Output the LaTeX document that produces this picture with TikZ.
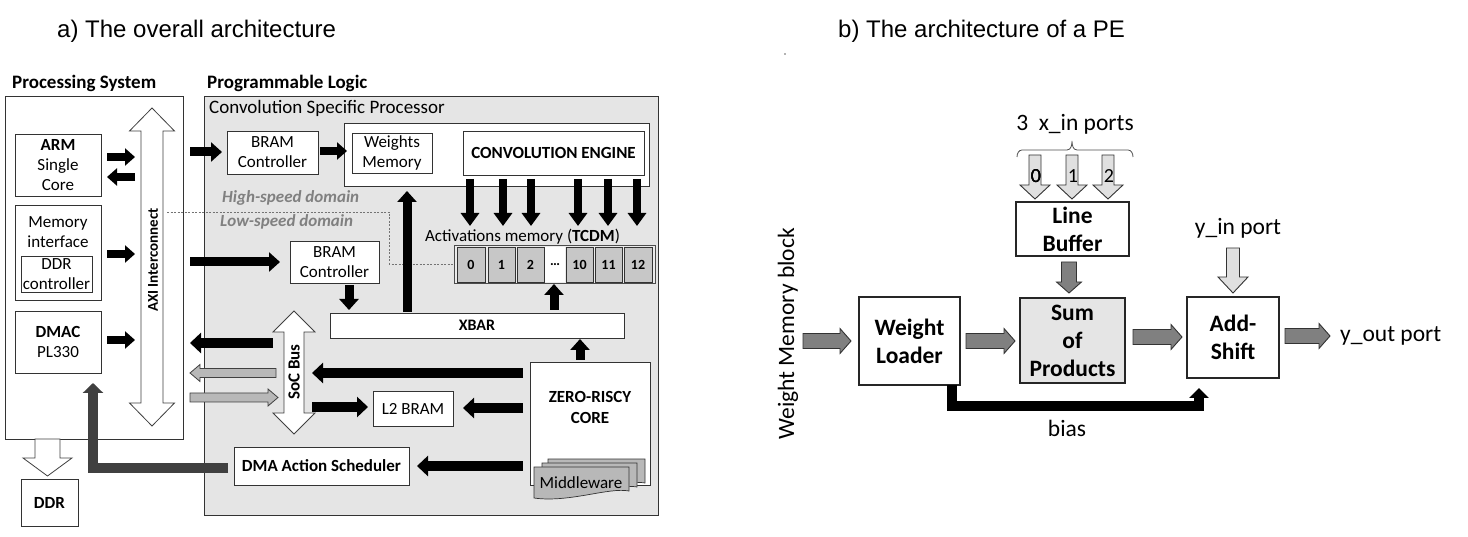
\documentclass[tikz,border=0pt]{standalone}
\usepackage{fontspec}
\setmainfont{Carlito}
\newfontfamily\arialf{Liberation Sans}
\usetikzlibrary{arrows.meta}
\newcommand\myfs[2]{\fontsize{#1pt}{#2pt}\selectfont}
% single block arrow: style, start, angle, length, shaft half, head half, head length
\newcommand\blockarrow[7]{\draw[#1,shift={(#2)},rotate=#3] (0,-#5) -- ({#4-#7},-#5) -- ({#4-#7},-#6) -- (#4,0) -- ({#4-#7},#6) -- ({#4-#7},#5) -- (0,#5) -- cycle;}
% double block arrow
\newcommand\dblarrow[7]{\draw[#1,shift={(#2)},rotate=#3] (0,0) -- (#7,-#6) -- (#7,-#5) -- ({#4-#7},-#5) -- ({#4-#7},-#6) -- (#4,0) -- ({#4-#7},#6) -- ({#4-#7},#5) -- (#7,#5) -- (#7,#6) -- cycle;}
\newcommand\docsh[4]{\draw[fill=black!28, draw=black!80, line width=0.7pt] (#1,#2) -- (#3,#2) -- (#3,{#4-7}) .. controls ({#3-20},{#4-11}) and ({#1+35},{#4+5}) .. (#1,#4) -- cycle;}
\tikzset{
 box/.style={draw=black!80, line width=0.8pt, fill=white, inner sep=0pt, align=center, font=\myfs{17}{20}},
 pebox/.style={draw=black!85, line width=1.1pt, fill=white, inner sep=0pt, align=center, font=\myfs{23.5}{28}\bfseries},
 lbl/.style={inner sep=0pt, align=center, font=\myfs{17}{20}},
 pelbl/.style={inner sep=0pt, align=center, font=\myfs{23.5}{28}},
 blk/.style={line width=9pt, -{Triangle[width=19pt,length=11pt]}},
 outl/.style={draw=black!75, line width=0.8pt},
 pearr/.style={draw=black!80, line width=0.9pt, fill=black!50},
 lightarr/.style={draw=black!80, line width=0.9pt, fill=black!12},
}
\begin{document}
\begin{tikzpicture}[x=1pt,y=-1pt]
\useasboundingbox (0,0) rectangle (1468,537);

% titles
\node[anchor=west, inner sep=0, font=\arialf\myfs{24}{28}] (ta) at (57,31) {a) The overall architecture};
\node[anchor=west, inner sep=0, font=\arialf\myfs{24}{28}] (tb) at (838,31) {b) The architecture of a PE};
\fill[black!60] (785,54) circle (0.9);

% ---------- Processing system ----------
\node[box, minimum width=178pt, minimum height=343pt] (ps) at (94,267.5) {};
\node[anchor=west, inner sep=0, font=\myfs{19}{22}\bfseries] (pst) at (12,83) {Processing System};
\node[box, minimum width=86pt, minimum height=62pt] (arm) at (58,165) {\textbf{ARM}\\Single\\Core};
\node[box, minimum width=86pt, minimum height=95pt] (memif) at (58,252.5) {};
\node[lbl] (meml) at (58,232) {Memory\\interface};
\node[box, minimum width=71pt, minimum height=36pt] (ddrc) at (56.5,274) {DDR\\controller};
\node[box, minimum width=86pt, minimum height=62pt] (dmac) at (58,342) {\textbf{DMAC}\\PL330};
\node[box, minimum width=57pt, minimum height=47pt, font=\myfs{17}{20}\bfseries] (ddr) at (49.5,502.5) {DDR};
\blockarrow{outl, fill=white}{47.5,439}{-90}{37}{12.5}{24.5}{18}
\dblarrow{outl, fill=white}{152,108}{-90}{318}{11}{22.5}{23}
\node[rotate=90, inner sep=0, font=\myfs{15}{18}\bfseries] (axi) at (153,260) {AXI Interconnect};

% ---------- Programmable logic ----------
\node[anchor=west, inner sep=0, font=\myfs{19}{22}\bfseries] (plt) at (207,83) {Programmable Logic};
\node[box, fill=black!10, minimum width=454pt, minimum height=419pt] (pl) at (431,305.5) {};
\node[anchor=west, inner sep=0, font=\myfs{19}{22}] (csp) at (209,108) {Convolution Specific Processor};

\node[box, minimum width=91pt, minimum height=43pt] (bram1) at (272.5,152.5) {BRAM\\Controller};
\node[box, minimum width=305pt, minimum height=63pt] (ceo) at (496.5,154.5) {};
\node[box, minimum width=80pt, minimum height=40pt] (wm) at (392,153) {Weights\\Memory};
\node[box, minimum width=181pt, minimum height=44pt, font=\myfs{17}{20}\bfseries] (ce) at (553.5,153) {CONVOLUTION ENGINE};

\draw[black!55, line width=0.6pt, dash pattern=on 2pt off 1.5pt] (167,212) -- (389,212) -- (389,264) -- (454,264);
\node[anchor=west, inner sep=0, text=black!50, font=\myfs{17}{20}\bfseries\itshape] (hsd) at (222,198) {High-speed domain};
\node[anchor=west, inner sep=0, text=black!50, font=\myfs{17}{20}\bfseries\itshape] (lsd) at (220,222) {Low-speed domain};

\node[lbl] (actl) at (522.5,237) {Activations memory (\textbf{TCDM})};
\node[box, fill=black!8, draw=black!70, minimum width=201pt, minimum height=38pt] (tcdm) at (554.5,264) {};
\foreach \cx/\w/\t/\n in {471/28/0/c0, 501.5/27/1/c1, 530.5/27/2/c2, 579.5/27/10/c10, 608.5/27/11/c11, 638/28/12/c12}
  \node[box, fill=black!22, minimum width=\w pt, minimum height=35pt, font=\myfs{14}{16}\bfseries] (\n) at (\cx,264.5) {\t};
\node[box, draw=none, minimum width=20pt, minimum height=35pt, font=\myfs{14}{16}\bfseries] (cd) at (555,264.5) {…};

\node[box, minimum width=89pt, minimum height=42pt] (bram2) at (334.5,262) {BRAM\\Controller};
\node[box, minimum width=294pt, minimum height=25pt, font=\myfs{16}{19}\bfseries] (xbar) at (477,325.5) {XBAR};
\node[box, minimum width=80pt, minimum height=35pt] (l2) at (413,408.5) {L2 BRAM};
\node[box, minimum width=175pt, minimum height=38pt, font=\myfs{17}{20}\bfseries] (dma) at (321.5,466) {DMA Action Scheduler};
\node[box, minimum width=120pt, minimum height=123pt] (zr) at (590,423.5) {};
\node[lbl, font=\myfs{17}{21}\bfseries] (zrt) at (590,407) {ZERO-RISCY\\CORE};
\docsh{548}{459}{645}{490}
\docsh{542}{463}{637}{494}
\docsh{534}{467}{629}{498}
\node[lbl] (mw) at (581,483) {Middleware};

\dblarrow{outl, fill=white}{294,311}{-90}{123}{10}{21}{21}
\node[rotate=90, inner sep=0, font=\myfs{17}{20}\bfseries] (soc) at (294,372) {SoC Bus};

% gray arrows SoC <-> PS
\blockarrow{outl, fill=black!28}{276,373}{180}{86}{4.5}{8.5}{10}
\blockarrow{outl, fill=black!28}{190,397.5}{0}{88}{4.5}{8.5}{10}

% black arrows
\draw[blk, line width=8pt, -{Triangle[width=17pt,length=10pt]}] (107,157) -- (135,157);
\draw[blk, line width=8pt, -{Triangle[width=17pt,length=10pt]}] (135,177) -- (107,177);
\draw[blk, line width=8pt, -{Triangle[width=17pt,length=10pt]}] (107,254) -- (135,254);
\draw[blk, line width=8pt, -{Triangle[width=17pt,length=10pt]}] (107,340) -- (135,340);
\draw[blk] (190,152) -- (222,152);
\draw[blk, line width=8pt, -{Triangle[width=17pt,length=10pt]}] (320,151) -- (347,151);
\draw[blk] (190,262) -- (280,262);
\foreach \x in {470,503,531,578,608,637}
  \draw[blk, line width=8pt, -{Triangle[width=18pt,length=13pt]}] (\x,179) -- (\x,226);
\draw[blk] (349,285) -- (349,310);
\draw[blk] (407,312) -- (407,191);
\draw[blk] (580,360) -- (580,339);
\draw[blk] (554,310) -- (554,284);
\draw[blk, line width=10pt, -{Triangle[width=20pt,length=11pt]}] (273,343) -- (190,343);
\draw[blk, line width=10pt, -{Triangle[width=20pt,length=11pt]}] (523,373) -- (312,373);
\draw[blk, line width=10pt, -{Triangle[width=20pt,length=11pt]}] (312,407) -- (368,407);
\draw[blk, line width=10pt, -{Triangle[width=20pt,length=11pt]}] (523,408) -- (463,408);
\draw[blk, line width=10pt, -{Triangle[width=20pt,length=11pt]}] (523,466) -- (417,466);

% DMA scheduler -> DMAC
\draw[black!75, line width=10pt, line join=miter, -{Triangle[width=20pt,length=10pt]}] (228,468) -| (93,383);

% ---------- PE ----------
\node[pelbl] (xin) at (1075,124) {3~~x\_in ports};
\draw[black!70, line width=0.8pt] (1017,157) to[out=90,in=180] (1022,150) -- (1067,150) to[out=0,in=-90] (1072,141) to[out=-90,in=180] (1077,150) -- (1128,150) to[out=0,in=90] (1133,157);
\foreach \x in {1035,1072,1108}
  \blockarrow{lightarr}{\x,155}{-90}{44}{6}{15}{14}
\node[inner sep=0, font=\myfs{20}{24}] (n0) at (1036,176) {0};
\node[inner sep=0, font=\myfs{20}{24}] (n1) at (1073,176) {1};
\node[inner sep=0, font=\myfs{20}{24}] (n2) at (1109,176) {2};

\node[pebox, minimum width=113pt, minimum height=54pt] (lb) at (1072.5,229) {Line\\Buffer};
\node[pebox, fill=black!10, minimum width=105pt, minimum height=85pt] (sop) at (1072.5,340.5) {Sum\\of\\Products};
\node[pebox, minimum width=101pt, minimum height=88pt] (wl) at (909.5,341) {Weight\\Loader};
\node[pebox, minimum width=92pt, minimum height=81pt] (as) at (1233,337.5) {Add-\\Shift};

\blockarrow{pearr}{1069,262}{-90}{31}{7.5}{12.5}{11}
\blockarrow{pearr}{803,341}{0}{48}{7.5}{12.5}{11}
\blockarrow{pearr}{966,341}{0}{49}{7.5}{12.5}{11}
\blockarrow{pearr}{1133,337}{0}{49}{7.5}{12.5}{11}
\blockarrow{pearr}{1285,336}{0}{45}{7.5}{12.5}{11}
\blockarrow{lightarr}{1233,248}{-90}{45}{6.5}{15}{16}

\node[pelbl] (yin) at (1238,228) {y\_in port};
\node[pelbl, anchor=west] (yout) at (1340,336) {y\_out port};
\node[pelbl] (bias) at (1067,428) {bias};
\node[pelbl, rotate=90] (wmb) at (788,334) {Weight Memory block};

\draw[black, line width=10pt, line join=miter, -{Triangle[width=19pt,length=10pt]}] (952,385) |- (1199,406) -- (1199,388);
\end{tikzpicture}
\end{document}
